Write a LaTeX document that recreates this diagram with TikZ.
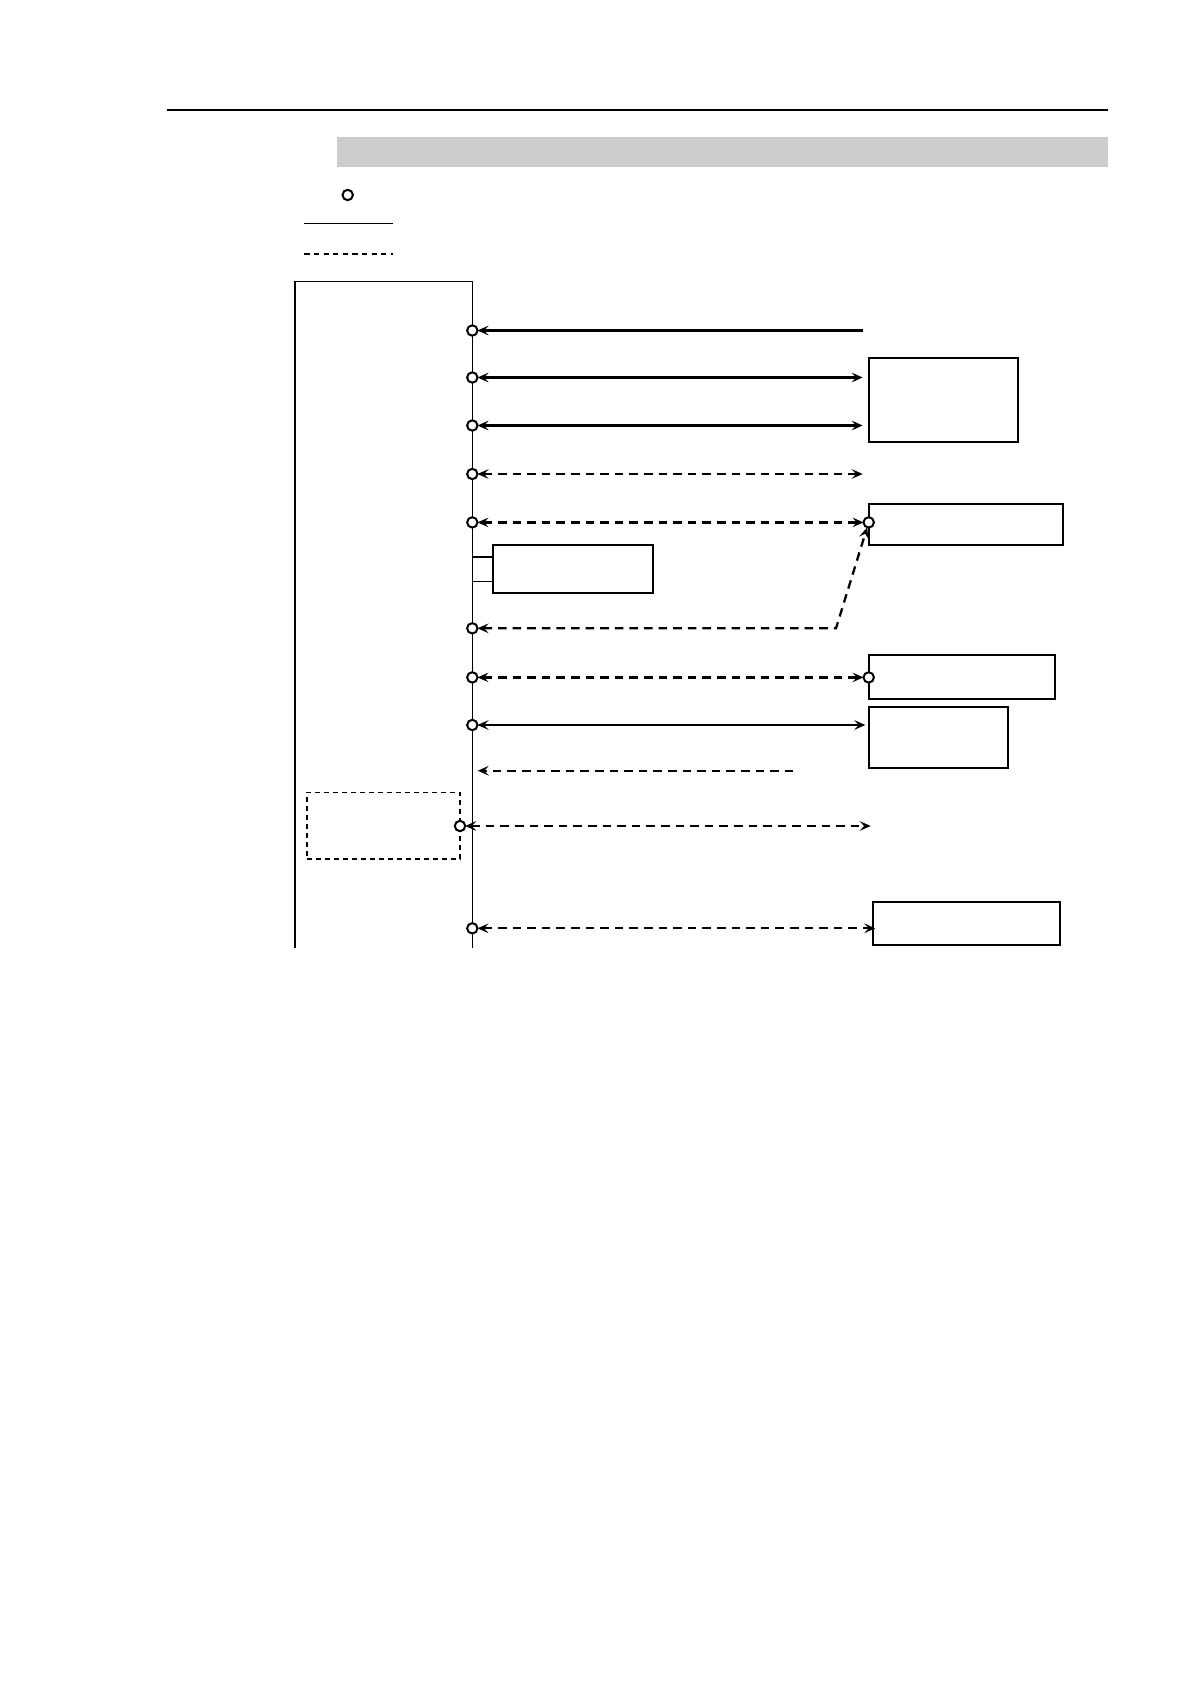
\documentclass[tikz,border=0pt]{standalone}
\usetikzlibrary{arrows.meta}
\definecolor{band}{HTML}{CCCCCC}
\begin{document}
\begin{tikzpicture}[x=0.5pt,y=-0.5pt,
  >={Stealth[length=5.5pt,width=4.8pt,inset=2.2pt]},
  box/.style={draw, line width=0.9pt, inner sep=0pt, outer sep=0pt, anchor=north west},
  dbox/.style={draw, line width=0.8pt, dash pattern=on 2.5pt off 2pt, inner sep=0pt, outer sep=0pt, anchor=north west},
  port/.style={circle, draw, line width=1pt, fill=white, minimum size=5.2pt, inner sep=0pt, outer sep=0pt},
  sol/.style={line width=1.2pt},
  dsh/.style={line width=1.15pt, dash pattern=on 4.3pt off 3pt},
  stub/.style={line width=0.6pt}]
\fill[white] (0,0) rectangle (1191,1684);
\useasboundingbox (0,0) rectangle (1191,1684);

% header
\draw[line width=1.1pt] (166.7,110) -- (1107.7,110);
\fill[band] (336.7,137) rectangle (1107.7,166.7);

% legend
\node[port] (lg) at (347.7,195) {};
\coordinate (ls1) at (304.3,223.3); \coordinate (ls2) at (393.3,223.3);
\draw[line width=0.7pt] (ls1) -- (ls2);
\coordinate (ld1) at (304.3,253.7); \coordinate (ld2) at (393.3,253.7);
\draw[line width=1pt, dash pattern=on 2.6pt off 2.2pt] (ld1) -- (ld2);

% main unit outline and bus
\draw[line width=1.1pt] (294.7,948.3) -- (294.7,281.7);
\draw[line width=0.8pt] (294.2,281.7) -- (472.3,281.7) -- (472.3,948.3);

% right-hand boxes
\node[box, minimum width=74.8pt, minimum height=42.3pt] (A) at (868.7,357.7) {};
\node[box, minimum width=97.3pt, minimum height=20.5pt] (B) at (868.7,504.3) {};
\node[box, minimum width=93.3pt, minimum height=21.85pt] (C) at (868.7,655.3) {};
\node[box, minimum width=69.35pt, minimum height=30.8pt] (D) at (869.3,706.7) {};
\node[box, minimum width=93.35pt, minimum height=21.5pt] (E) at (873.3,902) {};
\node[box, minimum width=80pt, minimum height=24pt] (F) at (493.3,545.3) {};
\node[dbox, minimum width=76.65pt, minimum height=33.2pt] (G) at (306.7,792.3) {};

% stubs to F
\coordinate (f1) at (472.3,557); \coordinate (f2) at (472.3,581.3);
\draw[stub] (f1) -- (F.west |- f1);
\draw[stub] (f2) -- (F.west |- f2);

% ports on bus
\node[port] (p1) at (472.3,330.5) {};
\node[port] (p2) at (472.3,377.5) {};
\node[port] (p3) at (472.3,425.5) {};
\node[port] (p4) at (472.3,474) {};
\node[port] (p5) at (472.3,522.4) {};
\node[port] (p6) at (472.3,628.3) {};
\node[port] (p7) at (472.3,677.4) {};
\node[port] (p8) at (472.3,725) {};
\node[port] (p10) at (460,826) {};
\node[port] (p11) at (472.3,928.3) {};

% ports on right boxes
\node[port] (q5) at (868.7,522.4) {};
\node[port] (q7) at (868.7,677.4) {};

% free ends
\coordinate (e1) at (863.3,330.5);
\coordinate (e2) at (862.7,377.5);
\coordinate (e3) at (862.7,425.5);
\coordinate (e4) at (862.7,474);
\coordinate (c6) at (836,628.3);
\coordinate (e9a) at (793.3,770.7);
\coordinate (e9b) at (477.7,770.7);
\coordinate (e10) at (870.7,826);

% connectors
\draw[sol,<-] (p1) -- (e1);
\draw[sol,<->] (p2) -- (e2);
\draw[sol,<->] (p3) -- (e3);
\draw[dsh,<->] (p4) -- (e4);
\draw[dsh,<->] (p5) -- (q5);
\draw[dsh,<->] (p6) -- (c6) -- (q5);
\draw[dsh,<->] (p7) -- (q7);
\draw[sol,<->,shorten >=2pt] (p8) -- (D.west |- p8);
\draw[dsh,->] (e9a) -- (e9b);
\draw[dsh,<->] (p10) -- (e10);
\draw[dsh,<->,shorten >=-1pt] (p11) -- (E.west |- p11);
\end{tikzpicture}
\end{document}
